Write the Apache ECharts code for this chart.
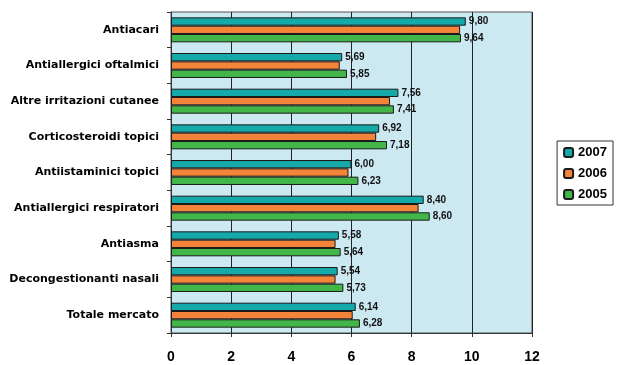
<!DOCTYPE html>
<html>
<head>
<meta charset="utf-8">
<script src="https://cdn.jsdelivr.net/npm/echarts@6/dist/echarts.min.js"></script>
<style>
  html, body { margin: 0; padding: 0; background: #fff; }
  #chart { width: 617px; height: 365px; }
</style>
</head>
<body>
<div id="chart"></div>
<script>
const categories = [
    'Antiacari',
    'Antiallergici oftalmici',
    'Altre irritazioni cutanee',
    'Corticosteroidi topici',
    'Antiistaminici topici',
    'Antiallergici respiratori',
    'Antiasma',
    'Decongestionanti nasali',
    'Totale mercato',
];
const values2007 = [9.80, 5.69, 7.56, 6.92, 6.00, 8.40, 5.58, 5.54, 6.14];
const values2006 = [9.61, 5.61, 7.28, 6.82, 5.90, 8.23, 5.47, 5.47, 6.04];
const values2005 = [9.64, 5.85, 7.41, 7.18, 6.23, 8.60, 5.64, 5.73, 6.28];
const xTicks = [0, 2, 4, 6, 8, 10, 12];

const fontFamily = 'Liberation Sans, Arial, sans-serif';
const colorList = ['#16a9aa', '#f3843a', '#43b649'];

function makeSeries(name, data, idx, showLabel) {
    return {
        name: name,
        type: 'bar',
        data: data,
        barGap: '0%',
        barCategoryGap: '30%',
        itemStyle: {
            color: colorList[idx],
            borderColor: '#1a1a1a',
            borderWidth: 1,
        },
        label: {
            show: showLabel,
            position: 'right',
            distance: 3,
            color: '#111',
            fontFamily: fontFamily,
            fontWeight: 'bold',
            fontSize: 10,
            formatter: (p) => p.value.toFixed(2).replace('.', ','),
        },
    };
}

const option = {
    animation: false,
    legend: {
        orient: 'vertical',
        right: 4,
        top: 141,
        itemWidth: 9,
        itemHeight: 9,
        itemGap: 8,
        padding: [5, 6, 4, 6],
        borderColor: '#333',
        borderWidth: 1,
        data: ['2007', '2006', '2005'],
        textStyle: {
            color: '#000',
            fontFamily: fontFamily,
            fontWeight: 'bold',
            fontSize: 13,
        },
    },
    grid: {
        left: 171,
        right: 85,
        top: 12,
        bottom: 32,
        show: true,
        backgroundColor: '#cce9f2',
        borderColor: '#555',
        borderWidth: 1,
    },
    xAxis: {
        type: 'value',
        min: 0,
        max: 12,
        interval: 2,
        axisLine: { show: true, lineStyle: { color: '#333', width: 1 } },
        axisTick: { show: true, length: 4, lineStyle: { color: '#333' } },
        axisLabel: {
            color: '#000',
            fontFamily: fontFamily,
            fontWeight: 'bold',
            fontSize: 14,
            margin: 17,
            formatter: (v) => (xTicks.indexOf(v) >= 0 ? String(v) : ''),
        },
        splitLine: { show: true, lineStyle: { color: '#222', width: 1 } },
    },
    yAxis: {
        type: 'category',
        inverse: true,
        data: categories,
        axisLine: { show: true, lineStyle: { color: '#333', width: 1 } },
        axisTick: { show: true, length: 4, lineStyle: { color: '#333' } },
        axisLabel: {
            color: '#000',
            fontFamily: 'DejaVu Sans, sans-serif',
            fontWeight: 'bold',
            fontSize: 11,
            margin: 12,
        },
        splitLine: { show: false },
    },
    series: [
        makeSeries('2007', values2007, 0, true),
        makeSeries('2006', values2006, 1, false),
        makeSeries('2005', values2005, 2, true),
    ],
};

const myChart = echarts.init(document.getElementById('chart'));
myChart.setOption(option);
</script>
</body>
</html>
